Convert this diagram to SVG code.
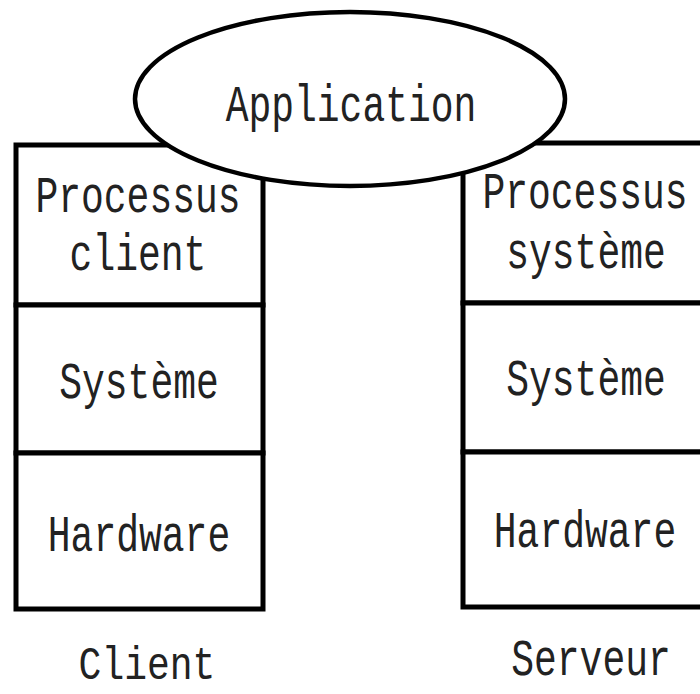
<svg xmlns="http://www.w3.org/2000/svg" width="700" height="694" viewBox="0 0 700 694">
<style>
.box{fill:#fff;stroke:#000;stroke-width:5}
.t{font-family:"Liberation Mono","Courier New",monospace;font-size:38px;fill:#222;text-anchor:middle}
.ell{fill:#fff;stroke:#000;stroke-width:4.5}
</style>
<g id="connectors"></g>
<g id="client">
<g id="client-processus"><rect class="box" x="16" y="145" width="247" height="160"/>
<text class="t" transform="translate(138,212) scale(1,1.35)">Processus</text>
<text class="t" transform="translate(138,270) scale(1,1.35)">client</text></g>
<g id="client-systeme"><rect class="box" x="16" y="305" width="247" height="148"/>
<text class="t" transform="translate(139,398) scale(1,1.35)">Système</text></g>
<g id="client-hardware"><rect class="box" x="16" y="453" width="247" height="156"/>
<text class="t" transform="translate(139,551) scale(1,1.35)">Hardware</text></g>
<text id="client-label" class="t" transform="translate(147,679) scale(1,1.2)">Client</text>
</g>
<g id="serveur">
<g id="serveur-processus"><rect class="box" x="463" y="143" width="260" height="160"/>
<text class="t" transform="translate(585,208) scale(1,1.35)">Processus</text>
<text class="t" transform="translate(586,268) scale(1,1.35)">système</text></g>
<g id="serveur-systeme"><rect class="box" x="463" y="303" width="260" height="149"/>
<text class="t" transform="translate(586,395) scale(1,1.35)">Système</text></g>
<g id="serveur-hardware"><rect class="box" x="463" y="452" width="260" height="155"/>
<text class="t" transform="translate(585,547) scale(1,1.35)">Hardware</text></g>
<text id="serveur-label" class="t" transform="translate(591,675) scale(1,1.35)">Serveur</text>
</g>
<g id="application">
<ellipse class="ell" cx="350" cy="99" rx="215" ry="87"/>
<text class="t" transform="translate(351,121) scale(1,1.35)">Application</text>
</g>
</svg>
